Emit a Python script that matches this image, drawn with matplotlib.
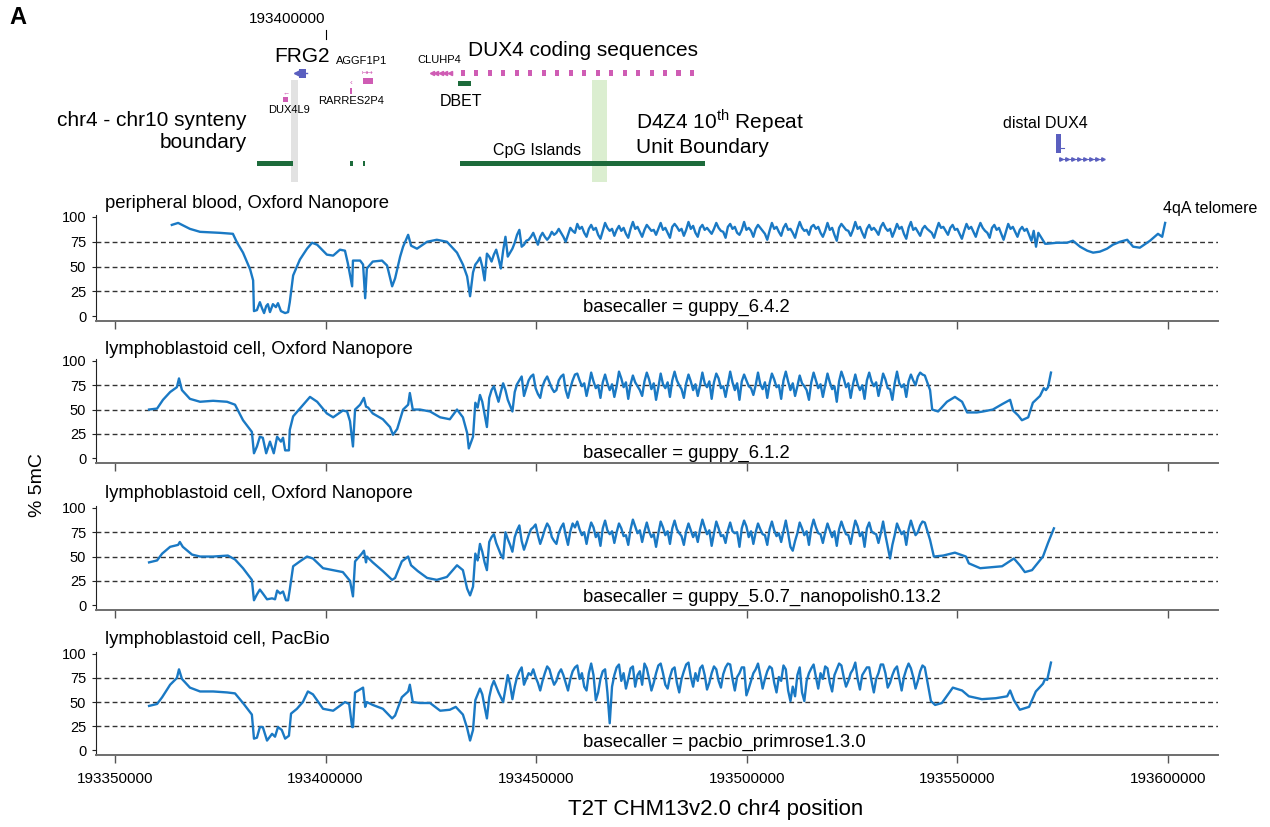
import numpy as np
import matplotlib
matplotlib.use('Agg')
import matplotlib.pyplot as plt
from matplotlib.patches import Rectangle

plt.rcParams['font.family'] = ['Liberation Sans', 'DejaVu Sans']
plt.rcParams['mathtext.fontset'] = 'custom'
plt.rcParams['mathtext.rm'] = 'Liberation Sans'

# ---- methylation tracks: positions in kb on chr4, values in % 5mC ----
# the D4Z4 array is sampled on a regular grid (6 bins per 3.3 kb unit)
REPEAT_START_KB = 193435.0
REPEAT_STEP_KB = 0.55

blood_left_kb = [193363.5, 193365.0, 193367.8, 193370.2, 193374.9, 193378.0, 193379.0, 193380.4, 193382.1, 193382.8,
                 193383.0, 193383.7, 193384.4, 193384.9, 193385.4, 193385.9, 193386.3, 193386.8, 193387.5, 193388.2,
                 193388.7, 193389.4, 193390.4, 193391.1, 193391.5, 193392.3, 193393.9, 193395.6, 193396.8, 193398.0,
                 193400.3, 193401.8, 193403.4, 193404.6, 193405.3, 193406.3, 193406.5, 193408.2, 193408.9, 193409.4,
                 193409.8, 193411.2, 193413.4, 193414.6, 193415.8, 193416.5, 193417.7, 193418.4, 193419.6, 193420.3,
                 193421.7, 193424.1, 193426.4, 193428.8, 193431.2, 193432.6, 193433.6, 193434.3]
blood_left = [92, 94, 88, 85, 84, 83, 74, 64, 47, 36,
              5, 6, 14, 8, 3, 10, 12, 4, 12, 9,
              13, 5, 3, 4, 14, 41, 57, 68, 74, 72,
              62, 61, 67, 66, 53, 30, 56, 56, 52, 18,
              48, 55, 56, 51, 30, 38, 60, 70, 82, 71,
              68, 75, 77, 75, 64, 52, 40, 20]
blood_repeat = [44, 52, 55, 59, 50, 36, 63, 60, 55, 62, 67, 58, 48, 66, 80,
                60, 64, 68, 74, 82, 87, 70, 72, 76, 77, 80, 84, 78, 72, 80,
                84, 80, 77, 80, 85, 82, 84, 88, 84, 80, 75, 82, 89, 86, 84,
                93, 88, 90, 84, 80, 88,  92, 87, 89, 82, 78, 86,  94, 89, 86, 88, 81, 87,
                91, 86, 89, 83, 79, 88,  95, 88, 90, 85, 80, 87,  92, 89, 86, 87, 82, 88,
                94, 87, 89, 84, 79, 90,  93, 90, 86, 88, 81, 87,  95, 88, 91, 84, 80, 89,
                92, 87, 89, 86, 83, 88,  94, 89, 86, 85, 79, 90,  93, 88, 90, 84, 82, 87,
                95, 87, 89, 86, 80, 88,  92, 89, 86, 83, 77, 86,  94, 88, 90, 85, 81, 89,
                93, 87, 88, 84, 79, 88,  95, 89, 86, 87, 82, 90,  92, 88, 90, 84, 80, 86,
                94, 87, 89, 82, 76, 89,  93, 90, 87, 86, 81, 87,  95, 88, 90, 84, 79, 88,
                92, 87, 89, 86, 82, 90,  94, 89, 86, 88, 80, 86,  93, 88, 90, 83, 78, 89,
                95, 87, 89, 85, 81, 88,  91, 88, 86, 84, 79, 87,  94, 89, 90, 86, 82, 89,
                92, 87, 88, 83, 78, 86,  93, 88, 90, 85, 80, 88,  94, 89, 86, 84, 79, 89,
                92, 87, 89, 83, 77, 85,  93, 88, 90, 85, 80, 87,  90, 86, 88, 82, 76, 86,
                70, 84]
blood_right_kb = [193570.8, 193571.3, 193573.6, 193576.0, 193577.4, 193579.1, 193580.8, 193582.2, 193583.8, 193585.5,
                  193586.9, 193588.6, 193590.3, 193591.7, 193593.3, 193595.7, 193597.6, 193598.6, 193599.3]
blood_right = [73, 73, 74, 74, 76, 70, 66, 64, 65, 68, 72, 75, 77, 70, 69, 76, 83, 80, 94]

lcl_g612_left_kb = [193358.1, 193360.0, 193361.4, 193363.1, 193364.7, 193365.2, 193365.9, 193367.8, 193370.2, 193373.3,
                    193376.6, 193378.5, 193380.4, 193382.5, 193383.0, 193383.7, 193384.4, 193385.1, 193385.9, 193386.8,
                    193387.7, 193388.5, 193389.4, 193389.9, 193390.4, 193391.3, 193391.5, 193392.3, 193393.9, 193396.3,
                    193398.0, 193400.3, 193401.8, 193404.1, 193405.1, 193405.8, 193406.5, 193407.0, 193408.2, 193409.1,
                    193409.6, 193410.1, 193411.2, 193413.6, 193415.3, 193416.0, 193417.0, 193418.4, 193419.6, 193420.0,
                    193420.7, 193422.4, 193424.8, 193427.2, 193429.5, 193431.2, 193432.6, 193433.6, 193434.0]
lcl_g612_left = [50, 51, 60, 68, 73, 82, 70, 61, 58, 59,
                 58, 55, 39, 27, 5, 12, 22, 21, 5, 17,
                 5, 22, 17, 21, 8, 8, 29, 43, 51, 63,
                 58, 46, 42, 49, 48, 38, 12, 50, 55, 62,
                 53, 52, 46, 40, 32, 24, 30, 50, 55, 67,
                 50, 50, 48, 42, 40, 50, 42, 26, 10]
lcl_g612_repeat = [22, 57, 52, 65, 58, 45, 32, 62, 70, 74, 66, 58, 68, 77, 70,
                   60, 54, 48, 68, 76, 80, 84, 64, 72, 80, 84, 86, 72, 66, 62,
                   74, 80, 84, 78, 72, 68, 70, 80, 84, 86, 70, 62, 72, 80, 86,
                   87, 80, 74, 77, 64, 75,  88, 79, 72, 75, 62, 78,  86, 77, 70, 76, 63, 74,
                   89, 82, 73, 78, 61, 76,  85, 78, 74, 70, 64, 79,  88, 81, 71, 77, 60, 73,
                   87, 76, 72, 78, 63, 80,  89, 80, 75, 71, 62, 77,  86, 79, 70, 76, 64, 75,
                   88, 77, 73, 79, 61, 78,  87, 82, 72, 74, 63, 76,  89, 78, 70, 77, 60, 79,
                   86, 80, 74, 72, 65, 75,  88, 76, 71, 78, 62, 77,  87, 81, 73, 75, 61, 80,
                   89, 79, 70, 77, 64, 74,  85, 77, 74, 70, 60, 78,  88, 80, 72, 76, 63, 75,
                   87, 78, 71, 74, 58, 79,  89, 82, 73, 77, 62, 76,  86, 76, 70, 75, 61, 80,
                   88, 79, 74, 78, 64, 75,  87, 81, 72, 71, 60, 77,  89, 77, 73, 76, 63, 79,
                   86, 80, 75, 84, 88, 86,
                   85]
lcl_g612_right_kb = [193543.5, 193544.0, 193545.4, 193547.5, 193549.4, 193551.1, 193552.3, 193554.6, 193556.1, 193558.4,
                     193560.8, 193562.5, 193563.2, 193564.4, 193565.3, 193566.8, 193567.9, 193569.6, 193570.5, 193571.0,
                     193571.5, 193572.2]
lcl_g612_right = [70, 50, 48, 58, 63, 58, 47, 47, 48, 50, 56, 60, 49, 44, 39, 42, 57, 64, 72, 70, 73, 88]

lcl_g507_left_kb = [193358.1, 193360.0, 193361.2, 193363.1, 193365.0, 193365.4, 193366.1, 193368.3, 193370.2, 193373.3,
                    193376.8, 193378.5, 193380.4, 193382.5, 193383.0, 193383.7, 193384.4, 193385.1, 193386.1, 193387.3,
                    193388.0, 193388.5, 193389.2, 193389.9, 193390.6, 193391.1, 193391.5, 193392.3, 193393.9, 193395.6,
                    193397.0, 193399.4, 193401.8, 193404.1, 193405.8, 193406.5, 193407.0, 193408.6, 193409.1, 193409.6,
                    193409.8, 193411.2, 193413.6, 193415.8, 193416.5, 193418.1, 193419.6, 193420.3, 193421.9, 193424.1,
                    193426.4, 193428.8, 193431.2, 193432.6, 193433.6, 193434.3]
lcl_g507_left = [44, 46, 53, 60, 62, 65, 60, 52, 50, 50,
                 51, 47, 38, 26, 5, 11, 16, 12, 6, 7,
                 6, 15, 12, 14, 5, 5, 16, 40, 45, 50,
                 48, 38, 36, 34, 25, 9, 45, 53, 56, 44,
                 50, 44, 35, 26, 28, 45, 50, 41, 35, 28,
                 26, 29, 41, 36, 17, 10]
lcl_g507_repeat = [19, 53, 46, 63, 55, 44, 36, 65, 70, 73, 64, 58, 52, 48, 75,
                   68, 62, 55, 70, 77, 82, 66, 57, 64, 72, 78, 80, 83, 72, 63,
                   70, 78, 84, 80, 70, 66, 63, 74, 80, 84, 72, 62, 76, 84, 80,
                   86, 78, 72, 75, 63, 76,  85, 80, 70, 74, 61, 79,  87, 77, 73, 76, 64, 75,
                   84, 79, 71, 72, 62, 78,  88, 81, 74, 77, 65, 76,  85, 76, 70, 73, 60, 74,
                   86, 80, 72, 76, 63, 79,  87, 78, 74, 71, 62, 76,  84, 77, 70, 75, 65, 78,
                   88, 80, 73, 77, 61, 74,  86, 79, 71, 72, 64, 77,  85, 76, 74, 75, 60, 79,
                   87, 81, 70, 76, 63, 75,  84, 78, 73, 72, 62, 78,  86, 77, 71, 74, 65, 76,
                   87, 74, 60, 56, 66, 74,  85, 79, 72, 76, 62, 79,  88, 80, 74, 73, 64, 75,
                   84, 77, 70, 76, 61, 78,  86, 79, 73, 72, 63, 76,  87, 81, 71, 75, 60, 79,
                   85, 76, 74, 73, 64, 74,  86, 72, 60, 48, 62, 72,  84, 78, 73, 76, 62, 78,
                   87, 79, 72, 75, 82, 86,
                   85]
lcl_g507_right_kb = [193543.5, 193544.4, 193546.6, 193549.4, 193552.0, 193552.7, 193555.4, 193560.6, 193563.4, 193564.8,
                     193566.0, 193567.7, 193570.3, 193571.5, 193572.9]
lcl_g507_right = [67, 50, 51, 54, 50, 43, 38, 40, 48, 41, 34, 36, 50, 64, 79]

lcl_pb_left_kb = [193358.1, 193360.0, 193361.2, 193363.1, 193364.7, 193365.2, 193365.9, 193367.8, 193370.2, 193373.3,
                  193376.6, 193378.5, 193380.4, 193382.5, 193383.0, 193383.7, 193384.4, 193385.1, 193386.1, 193387.3,
                  193388.0, 193388.7, 193389.6, 193390.4, 193391.3, 193391.8, 193393.2, 193394.6, 193395.8, 193397.0,
                  193399.4, 193401.8, 193404.6, 193405.6, 193406.3, 193406.5, 193407.0, 193408.9, 193409.4, 193409.8,
                  193411.2, 193413.6, 193415.8, 193416.5, 193418.1, 193419.6, 193420.0, 193420.7, 193422.4, 193424.8,
                  193427.2, 193429.5, 193430.9, 193432.6, 193433.6, 193434.3]
lcl_pb_left = [46, 48, 55, 68, 75, 84, 74, 65, 61, 61,
               60, 59, 49, 37, 12, 13, 24, 24, 10, 17,
               14, 24, 21, 12, 15, 38, 43, 50, 61, 58,
               43, 41, 50, 48, 24, 24, 60, 65, 45, 50,
               47, 43, 33, 36, 55, 61, 68, 50, 49, 49,
               41, 42, 45, 37, 23, 10]
lcl_pb_repeat = [21, 52, 58, 64, 58, 45, 33, 55, 66, 72, 66, 60, 55, 50, 64,
                 78, 68, 53, 66, 76, 82, 86, 68, 74, 80, 78, 84, 76, 70, 62,
                 72, 80, 87, 84, 75, 68, 72, 80, 84, 78, 70, 62, 74, 82, 86,
                 88, 74, 80, 66, 62, 80,  90, 78, 52, 60, 74, 82,  84, 60, 28, 66, 78, 86,
                 89, 72, 80, 64, 74, 85,  87, 66, 78, 82, 68, 90,  85, 74, 62, 70, 80, 88,
                 90, 80, 68, 64, 76, 84,  86, 70, 60, 74, 82, 89,  91, 76, 66, 80, 72, 85,
                 88, 78, 63, 70, 80, 87,  84, 72, 65, 79, 86, 90,  89, 74, 62, 76, 80, 86,
                 86, 57, 64, 72, 80, 84,  90, 78, 64, 74, 82, 87,  85, 70, 60, 76, 72, 88,
                 84, 62, 51, 66, 56, 78,  86, 60, 51, 72, 80, 85,  89, 76, 64, 80, 74, 87,
                 85, 70, 61, 78, 84, 90,  88, 76, 66, 72, 80, 84,  91, 74, 63, 78, 82, 86,
                 86, 72, 60, 74, 80, 89,  89, 80, 65, 70, 78, 84,  87, 74, 62, 76, 84, 90,
                 85, 76, 64, 72, 82, 88,
                 86]
lcl_pb_right_kb = [193543.7, 193544.7, 193546.3, 193548.9, 193551.1, 193552.7, 193555.8, 193559.1, 193561.8, 193562.5,
                   193563.4, 193564.8, 193567.0, 193568.6, 193570.3, 193570.8, 193571.3, 193572.2]
lcl_pb_right = [51, 47, 49, 65, 62, 56, 53, 54, 56, 62, 52, 42, 45, 61, 69, 74, 73, 91]

panel_titles = ['peripheral blood, Oxford Nanopore', 'lymphoblastoid cell, Oxford Nanopore',
                'lymphoblastoid cell, Oxford Nanopore', 'lymphoblastoid cell, PacBio']
basecallers = ['guppy_6.4.2', 'guppy_6.1.2', 'guppy_5.0.7_nanopolish0.13.2', 'pacbio_primrose1.3.0']
tracks = [
    (blood_left_kb, blood_left, blood_repeat, blood_right_kb, blood_right),
    (lcl_g612_left_kb, lcl_g612_left, lcl_g612_repeat, lcl_g612_right_kb, lcl_g612_right),
    (lcl_g507_left_kb, lcl_g507_left, lcl_g507_repeat, lcl_g507_right_kb, lcl_g507_right),
    (lcl_pb_left_kb, lcl_pb_left, lcl_pb_repeat, lcl_pb_right_kb, lcl_pb_right),
]
x_ticks = [193350000, 193400000, 193450000, 193500000, 193550000, 193600000]
y_ticks = [0, 25, 50, 75, 100]

# ---- annotation features (kb) ----
synteny_band_kb = (193391.8, 193393.4)
d4z4_boundary_kb = (193463.2, 193466.8)
cpg_islands_kb = [(193383.7, 193392.3), (193405.8, 193406.5), (193408.9, 193409.4), (193431.9, 193490.1)]
dbet_kb = (193431.4, 193434.5)
dux4_units_kb = [193432.1, 193435.3, 193438.5, 193441.7, 193444.9, 193448.1, 193451.3, 193454.5, 193457.7,
                 193460.9, 193464.1, 193467.3, 193470.5, 193473.7, 193476.9, 193480.1, 193483.3, 193486.5]
frg2_kb = (193393.6, 193395.3)
dux4l9_kb = (193389.9, 193391.1)
rarres2p4_kb = (193405.8, 193406.3)
aggf1p1_kb = (193408.9, 193411.2)
cluhp4_kb = (193425.2, 193429.5)
distal_dux4_exon_kb = (193573.4, 193574.6)
distal_dux4_gene_kb = (193574.6, 193584.6)

W, H = 1270, 827
XLIM = (193345500, 193611850)
LINE_BLUE = '#1a79c4'
PINK = '#cf5cb4'
DARK_GREEN = '#1d6b3b'
GENE_BLUE = '#5a5fbf'


def box(left, top, right, bottom):
    return [left / W, 1 - bottom / H, (right - left) / W, (bottom - top) / H]


def track_xy(left_kb, left, rep, right_kb, right):
    rep_kb = REPEAT_START_KB + REPEAT_STEP_KB * np.arange(len(rep))
    kb = np.concatenate([left_kb, rep_kb, right_kb])
    return kb * 1000, np.concatenate([left, rep, right])


def span(ax, rng, y0, y1, color, z=2):
    ax.add_patch(Rectangle((rng[0] * 1000, y0), (rng[1] - rng[0]) * 1000, y1 - y0,
                           facecolor=color, edgecolor='none', zorder=z))


fig = plt.figure(figsize=(12.7, 8.27), dpi=100)

# methylation panels
panel_rows = [(215, 321), (359, 463), (506, 610), (652, 755)]
title_y = [204, 350, 494, 639]
caller_y = [307, 453, 597, 742]
for k, (top, bottom) in enumerate(panel_rows):
    ax = fig.add_axes(box(96, top, 1218, bottom))
    x, y = track_xy(*tracks[k])
    for level in (25, 50, 75):
        ax.axhline(level, color='#333333', lw=1.0, ls=(0, (3.5, 2.3)), zorder=1)
    ax.plot(x, y, color=LINE_BLUE, lw=1.7, solid_joinstyle='round', zorder=3)
    ax.set_xlim(XLIM)
    ax.set_ylim(-5, 102)
    ax.set_yticks(y_ticks)
    ax.set_xticks(x_ticks)
    ax.set_xticklabels([str(t) for t in x_ticks])
    for s in ('top', 'right'):
        ax.spines[s].set_visible(False)
    ax.spines['left'].set_color('#222222')
    ax.spines['left'].set_linewidth(0.8)
    ax.spines['bottom'].set_color('#6e6e6e')
    ax.spines['bottom'].set_linewidth(1.4)
    ax.tick_params(axis='y', labelsize=10.5, length=3, width=0.8, pad=4, color='#222222')
    ax.tick_params(axis='x', labelsize=11, length=5.5, width=1.0, pad=7, color='#555555',
                   labelbottom=(k == 3))
    fig.text(105 / W, 1 - title_y[k] / H, panel_titles[k], fontsize=13.3, ha='left', va='center')
    fig.text(583 / W, 1 - caller_y[k] / H, 'basecaller = ' + basecallers[k], fontsize=13.3,
             ha='left', va='center')

fig.text(1163 / W, 1 - 208 / H, '4qA telomere', fontsize=11.5, ha='left', va='center')
fig.text(38 / W, 1 - 485 / H, '% 5mC', fontsize=14, rotation=90, ha='center', va='center')
fig.text(716 / W, 1 - 809 / H, 'T2T CHM13v2.0 chr4 position', fontsize=16, ha='center', va='center')
fig.text(18 / W, 1 - 18 / H, 'A', fontsize=17, fontweight='bold', ha='center', va='center')

# annotation track (y in pixels from figure top)
ann = fig.add_axes(box(96, 0, 1218, 185))
ann.set_xlim(XLIM)
ann.set_ylim(185, 0)
ann.axis('off')

span(ann, synteny_band_kb, 80, 182, '#e2e2e2', z=0)
span(ann, d4z4_boundary_kb, 80, 182, '#dbeed0', z=0)
for rng in cpg_islands_kb:
    span(ann, rng, 161, 166, DARK_GREEN)
span(ann, dbet_kb, 81, 86, DARK_GREEN)
for start in dux4_units_kb:
    span(ann, (start, start + 1.0), 70, 76, PINK)

# small gene glyphs
ann.plot([frg2_kb[0] * 1000 - 800, frg2_kb[1] * 1000 + 300], [73, 73], color=GENE_BLUE, lw=1.0)
span(ann, frg2_kb, 69, 78, GENE_BLUE)
ann.plot([frg2_kb[0] * 1000 - 500], [73], marker='<', ms=4, color=GENE_BLUE)
span(ann, dux4l9_kb, 97, 102, PINK)
ann.text(np.mean(dux4l9_kb) * 1000, 93, '←', fontsize=5, color=PINK, ha='center', va='center')
span(ann, rarres2p4_kb, 88, 94, PINK)
ann.text(np.mean(rarres2p4_kb) * 1000, 84, '‹', fontsize=6, color=PINK, ha='center', va='center')
span(ann, aggf1p1_kb, 78, 84, PINK)
ann.text(np.mean(aggf1p1_kb) * 1000, 73, '↦↦', fontsize=5, color=PINK, ha='center', va='center')
ann.plot([cluhp4_kb[0] * 1000, cluhp4_kb[1] * 1000], [73, 73], color=PINK, lw=0.8)
ann.plot(np.linspace(cluhp4_kb[0], cluhp4_kb[1], 5) * 1000, [73] * 5, ls='none', marker='<',
         ms=3, color=PINK)
span(ann, distal_dux4_exon_kb, 134, 153, GENE_BLUE)
ann.plot([distal_dux4_exon_kb[1] * 1000, distal_dux4_exon_kb[1] * 1000 + 800], [148, 148],
         color=GENE_BLUE, lw=0.8)
ann.plot([distal_dux4_gene_kb[0] * 1000, distal_dux4_gene_kb[1] * 1000], [159, 159], color=GENE_BLUE, lw=0.8)
ann.plot(np.linspace(distal_dux4_gene_kb[0], distal_dux4_gene_kb[1], 8) * 1000, [159] * 8, ls='none',
         marker='>', ms=2.5, color=GENE_BLUE)

# coordinate marker
ann.plot([193400000, 193400000], [30, 39], color='k', lw=0.8)
ann.text(193400000, 19, '193400000', fontsize=11, ha='right', va='center')

# feature labels
ann.text(193394400, 57, 'FRG2', fontsize=15, ha='center', va='center')
ann.text(193408600, 61, 'AGGF1P1', fontsize=8, ha='center', va='center')
ann.text(193406000, 101, 'RARRES2P4', fontsize=8, ha='center', va='center')
ann.text(193391300, 110, 'DUX4L9', fontsize=8, ha='center', va='center')
ann.text(193381300, 132, 'chr4 - chr10 synteny\nboundary', fontsize=15, ha='right', va='center',
         multialignment='right')
ann.text(193426900, 60, 'CLUHP4', fontsize=8, ha='center', va='center')
ann.text(193433800, 50, 'DUX4 coding sequences', fontsize=15, ha='left', va='center')
ann.text(193432100, 101, 'DBET', fontsize=11.5, ha='center', va='center')
ann.text(193450200, 150, 'CpG Islands', fontsize=11.5, ha='center', va='center')
ann.text(193473700, 132, 'D4Z4 10$^{\\mathrm{th}}$ Repeat\nUnit Boundary', fontsize=15, ha='left', va='center')
ann.text(193570800, 123, 'distal DUX4', fontsize=11.5, ha='center', va='center')

fig.savefig('out.png', dpi=100)
